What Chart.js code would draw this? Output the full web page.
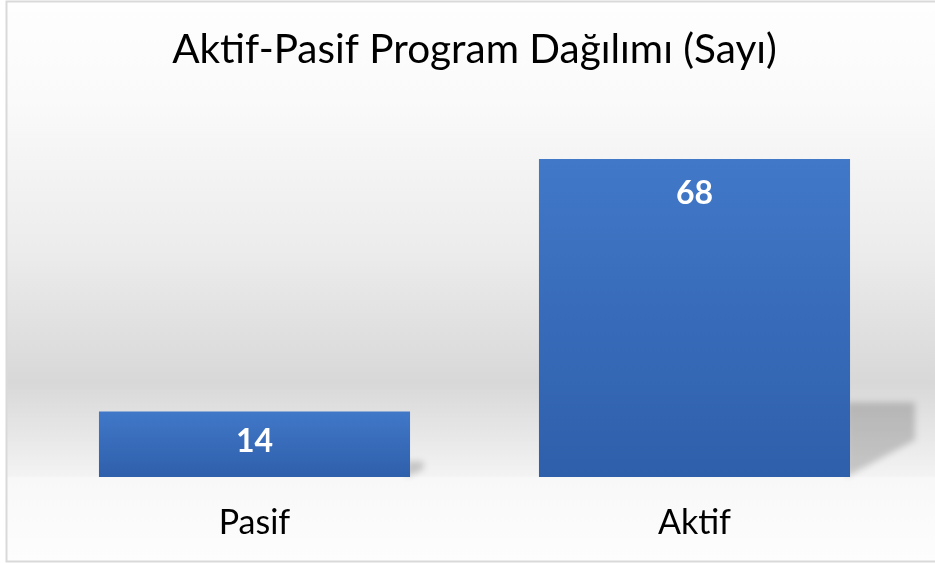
<!DOCTYPE html>
<html>
<head>
<meta charset="utf-8">
<script src="https://cdn.jsdelivr.net/npm/chart.js@4.4.1/dist/chart.umd.min.js"></script>
<style>
  body { margin: 0; background: #ffffff; }
  #box { width: 935px; height: 563px; }
</style>
</head>
<body>
<div id="box"><canvas id="programs" width="935" height="563"></canvas></div>
<script>
var ctx = document.getElementById("programs").getContext("2d");

// values
const categories = ["Pasif", "Aktif"];
const counts = [14, 68];
const axisMax = 80;
const chartTitle = "Aktif-Pasif Program Dağılımı (Sayı)";

// grey "wall" background and the thin frame round the chart
const backdrop = {
  id: "backdrop",
  beforeDraw: (chart) => {
    const c = chart.ctx;
    const h = chart.height;
    c.save();
    c.fillStyle = "#ffffff";
    c.fillRect(0, 0, chart.width, h);
    const g = c.createLinearGradient(0, 0, 0, h);
    g.addColorStop(0, "#fefefe");
    g.addColorStop(100 / h, "#fafafa");
    g.addColorStop(250 / h, "#ececec");
    g.addColorStop(383 / h, "#d8d8d8");
    g.addColorStop(476 / h, "#f3f3f3");
    g.addColorStop(478 / h, "#f8f8f8");
    g.addColorStop(1, "#fdfdfd");
    c.fillStyle = g;
    c.fillRect(7, 2, chart.width, h - 4);
    c.strokeStyle = "#d9d9d9";
    c.lineWidth = 2;
    c.strokeRect(6.5, 1.5, chart.width + 10, h - 3);
    c.restore();
  },
};

// perspective shadow lying behind each bar
const floorShadow = {
  id: "floorShadow",
  beforeDatasetsDraw: (chart) => {
    const c = chart.ctx;
    chart.getDatasetMeta(0).data.forEach((bar) => {
      const h = bar.base - bar.y;
      const right = bar.x + bar.width / 2;
      c.save();
      c.filter = "blur(3px)";
      c.fillStyle = "rgba(0,0,0,0.18)";
      c.beginPath();
      c.moveTo(right - 4, bar.base - 0.235 * h);
      c.lineTo(right + 0.204 * h, bar.base - 0.235 * h);
      c.lineTo(right + 0.204 * h, bar.base - 0.116 * h);
      c.lineTo(right - 4, bar.base);
      c.closePath();
      c.fill();
      c.restore();
    });
  },
};

// white value labels inside the top of the bars
const valueLabels = {
  id: "valueLabels",
  afterDatasetsDraw: (chart) => {
    const c = chart.ctx;
    const data = chart.data.datasets[0].data;
    chart.getDatasetMeta(0).data.forEach((bar, i) => {
      const h = bar.base - bar.y;
      const off = Math.min(35, h / 2 - 3);
      c.save();
      c.fillStyle = "#ffffff";
      c.font = "bold 32px Lato";
      c.textAlign = "center";
      c.textBaseline = "middle";
      c.fillText(String(data[i]), bar.x, bar.y + off);
      c.restore();
    });
  },
};

const barFill = (context) => {
  const chart = context.chart;
  const y = chart.scales && chart.scales.y;
  if (!y || !chart.chartArea) return "#3a6cbd";
  const top = y.getPixelForValue(context.raw);
  const base = y.getPixelForValue(0);
  const g = chart.ctx.createLinearGradient(0, top, 0, base);
  g.addColorStop(0, "#4178c8");
  g.addColorStop(1, "#2e5fab");
  return g;
};

var chart = new Chart(ctx, {
  type: "bar",
  data: {
    labels: categories,
    datasets: [
      {
        data: counts,
        backgroundColor: (context) => barFill(context),
        borderWidth: 0,
        categoryPercentage: 1,
        barPercentage: 0.707,
      },
    ],
  },
  options: {
    responsive: false,
    animation: false,
    layout: {
      padding: { left: 34.5, right: 20.5, top: 0, bottom: 0 },
    },
    plugins: {
      legend: { display: false },
      tooltip: { enabled: false },
      title: {
        display: true,
        text: chartTitle,
        color: "#000000",
        font: { family: "Lato", size: 40.5, weight: "normal", lineHeight: 1.2 },
        padding: { top: 25.7, bottom: 28.7 },
      },
    },
    scales: {
      x: {
        grid: { display: false, drawTicks: false },
        border: { display: false },
        afterFit: (scale) => {
          scale.height = 86;
        },
        ticks: {
          color: "#000000",
          padding: 26,
          font: { family: "Lato", size: 34, lineHeight: 1.2 },
        },
      },
      y: {
        display: false,
        min: 0,
        max: axisMax,
      },
    },
  },
  plugins: [backdrop, floorShadow, valueLabels],
});
</script>
</body>
</html>
